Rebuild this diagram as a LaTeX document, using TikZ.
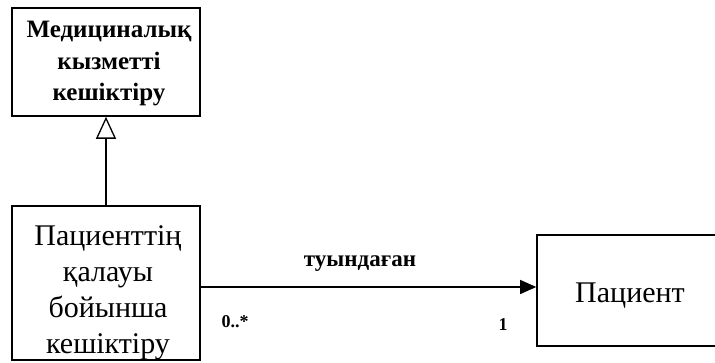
\documentclass[tikz,border=0pt]{standalone}
\usepackage{fontspec}
\setmainfont{Liberation Serif}
\usetikzlibrary{arrows.meta,calc}
\tikzset{
  cls/.style={draw, line width=1.6pt, inner sep=0pt},
  txt/.style={inner sep=0pt, align=center},
  topfont/.style={font=\fontsize{25}{31.5}\selectfont\bfseries},
  botfont/.style={font=\fontsize{30}{36}\selectfont},
  lbl/.style={font=\fontsize{23}{26}\selectfont\bfseries},
  mult/.style={font=\fontsize{18}{20}\selectfont\bfseries},
  conn/.style={line width=1.3pt}
}
\begin{document}
\begin{tikzpicture}[x=1pt,y=-1pt]
\useasboundingbox (0,0) rectangle (715,363);
\node[cls, minimum width=188pt, minimum height=108pt] (med) at (106,62) {};
\node[txt, topfont] (medt) at (109,64) {Медициналық\\кызметті\\кешіктіру};
\node[cls, minimum width=188pt, minimum height=154pt] (req) at (106,283) {};
\node[txt, botfont] (reqt) at (108,293) {Пациенттің\\қалауы\\бойынша\\кешіктіру};
\node[cls, minimum width=184pt, minimum height=111pt] (pat) at (629,290.5) {};
\node[txt, botfont] (patt) at (630,296) {Пациент};
\draw[conn, -{Triangle[open, length=22pt, width=20pt, line width=1.3pt]}] (req.north) -- (med.south);
\coordinate (a) at ($(req.east)+(0,4)$);
\draw[conn, -{Triangle[length=16pt, width=14pt]}] (a) -- (a -| pat.west);
\node[lbl] (l1) at (360,264) {туындаған};
\node[mult] (l2) at (235,322) {0..*};
\node[mult] (l3) at (503,325) {1};
\end{tikzpicture}
\end{document}
